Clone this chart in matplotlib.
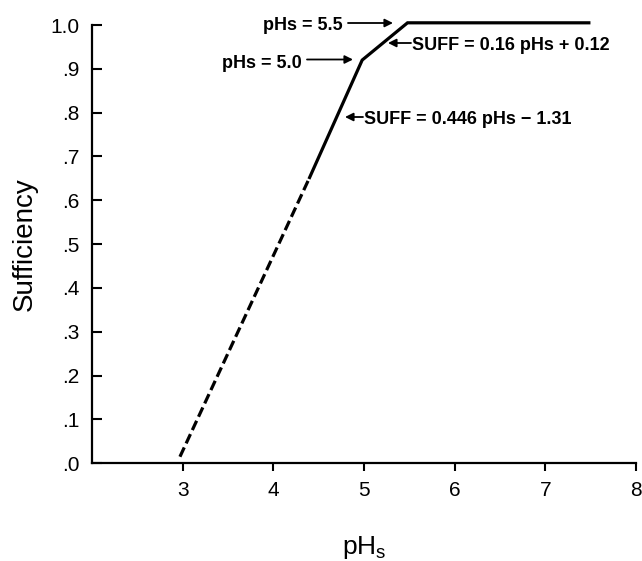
import matplotlib
matplotlib.use("Agg")
import matplotlib.pyplot as plt

# ---- data ----
dashed_x = [2.97, 4.40]
dashed_y = [0.015, 0.652]
solid_x = [4.40, 4.98, 5.48, 7.48]
solid_y = [0.652, 0.92, 1.005, 1.005]

x_ticks = [3, 4, 5, 6, 7, 8]
x_ticklabels = ["3", "4", "5", "6", "7", "8"]
y_ticks = [0.0, 0.1, 0.2, 0.3, 0.4, 0.5, 0.6, 0.7, 0.8, 0.9, 1.0]
y_ticklabels = [".0", ".1", ".2", ".3", ".4", ".5", ".6", ".7", ".8", ".9", "1.0"]

ann_texts = ["pHs = 5.5", "pHs = 5.0", "SUFF = 0.16 pHs + 0.12", "SUFF = 0.446 pHs \u2212 1.31"]

W, H = 642, 561
fig = plt.figure(figsize=(W / 100, H / 100), dpi=100)
ax = fig.add_axes([92 / W, (H - 463.3) / H, (636 - 92) / W, (463.3 - 25) / H])

reg = ["Liberation Sans", "DejaVu Sans"]
bold = ["Liberation Sans", "DejaVu Sans"]

ax.plot(dashed_x, dashed_y, color="black", lw=2.3, linestyle=(0, (3.2, 1.4)),
        solid_capstyle="butt", dash_capstyle="butt", clip_on=False)
ax.plot(solid_x, solid_y, color="black", lw=2.3, solid_joinstyle="miter",
        clip_on=False)

ax.set_xlim(2, 8)
ax.set_ylim(0, 1.0)
ax.set_xticks(x_ticks)
ax.set_xticklabels(x_ticklabels, family=reg, fontsize=15)
ax.set_yticks(y_ticks)
ax.set_yticklabels(y_ticklabels, family=reg, fontsize=15)

for s in ["top", "right"]:
    ax.spines[s].set_visible(False)
for s in ["left", "bottom"]:
    ax.spines[s].set_linewidth(1.6)

ax.tick_params(axis="x", direction="out", length=6, width=1.5, pad=7)
ax.tick_params(axis="y", direction="in", length=7, width=1.5, pad=9)

ax.set_xlabel(r"pH$_\mathregular{s}$", family=reg, fontsize=19, labelpad=24)
ax.set_ylabel("Sufficiency", family=reg, fontsize=20, labelpad=9)

def px2d(px, py):
    return (2 + (px - 92) / 90.67, (463.3 - py) / 438.3)

arrow_kw = dict(arrowstyle="-|>", color="black", lw=1.3, mutation_scale=12,
                shrinkA=0, shrinkB=0)

FS = 13
# pHs = 5.5
ax.text(*px2d(343, 23), ann_texts[0], ha="right", va="center_baseline",
        family=bold, fontweight="bold", fontsize=FS, clip_on=False)
ax.annotate("", xy=px2d(393, 23), xytext=px2d(348, 23), arrowprops=arrow_kw,
            annotation_clip=False)

# pHs = 5.0
ax.text(*px2d(302, 61), ann_texts[1], ha="right", va="center_baseline",
        family=bold, fontweight="bold", fontsize=FS)
ax.annotate("", xy=px2d(353, 59.5), xytext=px2d(307, 59.5), arrowprops=arrow_kw,
            annotation_clip=False)

# SUFF upper
ax.text(*px2d(412, 43), ann_texts[2], ha="left", va="center_baseline",
        family=bold, fontweight="bold", fontsize=FS)
ax.annotate("", xy=px2d(388, 43), xytext=px2d(411, 43), arrowprops=arrow_kw,
            annotation_clip=False)

# SUFF lower
ax.text(*px2d(364, 117), ann_texts[3], ha="left", va="center_baseline",
        family=bold, fontweight="bold", fontsize=FS)
ax.annotate("", xy=px2d(345, 117), xytext=px2d(363, 117), arrowprops=arrow_kw,
            annotation_clip=False)

fig.savefig("out.png", dpi=100)
